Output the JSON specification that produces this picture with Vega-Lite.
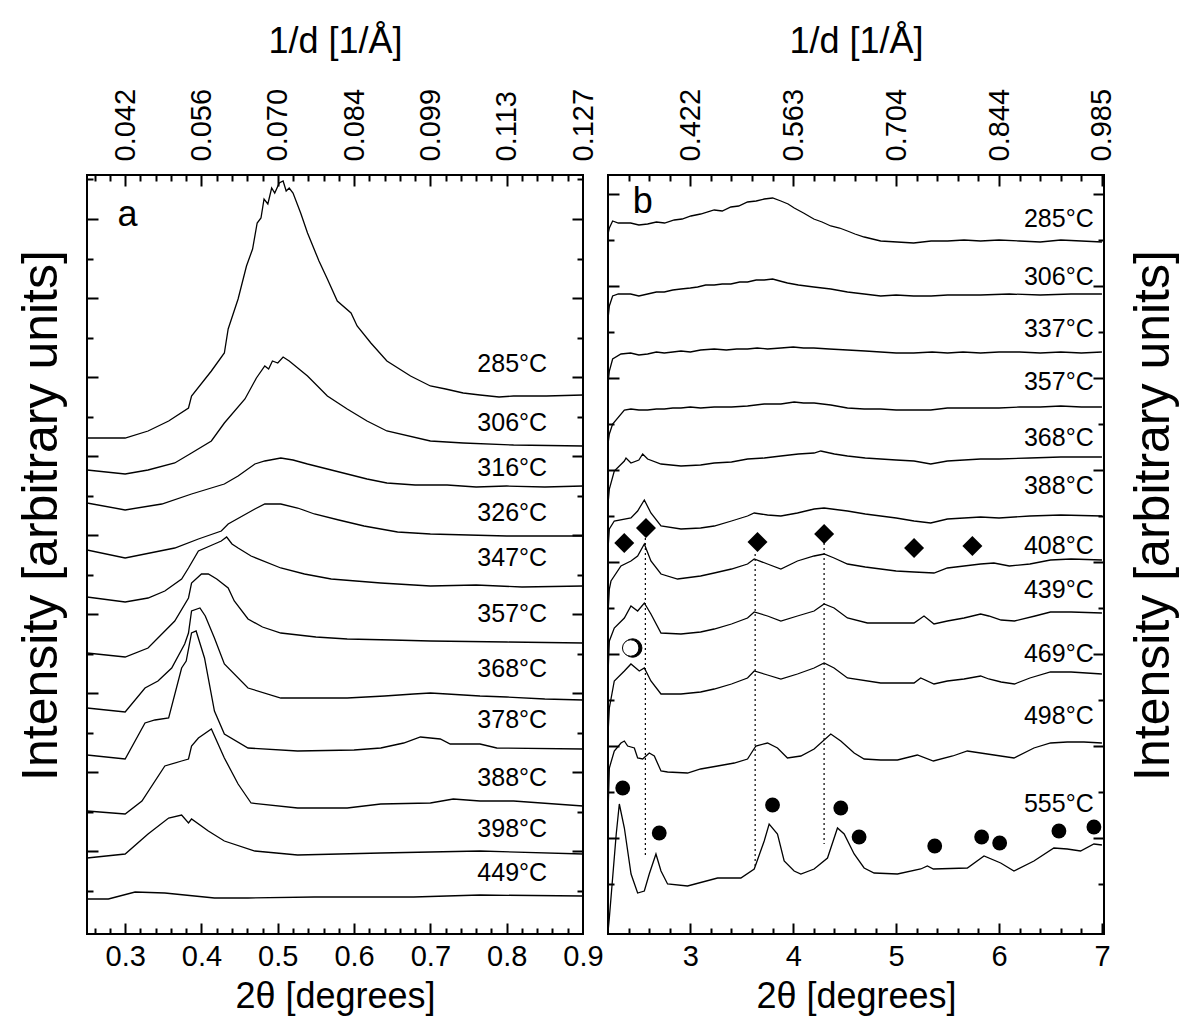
{
"$schema":"https://vega.github.io/schema/vega-lite/v6.json",
"background":"white",
"autosize":{"type":"pad"},
"padding":{"left":14,"top":22,"right":5,"bottom":5},
"spacing":25,
"bounds":"flush",
"config":{"font":"Liberation Sans","view":{"stroke":"black","strokeWidth":2},
"axis":{"grid":false,"domain":false,"labelColor":"black","titleColor":"black","tickColor":"black","titleFontWeight":"normal","labelOverlap":false,"labelFlush":false,"tickWidth":2,"labelFont":"Liberation Sans","titleFont":"Liberation Sans"}},
"datasets":{
"ca":[
{"t":"285","x":[0.25,0.3,0.33,0.357,0.383,0.387,0.413,0.43,0.435,0.448,0.459,0.467,0.473,0.478,0.482,0.487,0.492,0.496,0.502,0.507,0.511,0.515,0.52,0.53,0.539,0.554,0.565,0.578,0.596,0.604,0.622,0.643,0.674,0.7,0.72,0.743,0.765,0.79,0.809,0.852,0.9],"y":[496,496,503,513,526,538,563,581,605,635,668,685,711,716,735,730,746,741,751,753,743,746,741,721,701,673,655,633,621,608,591,573,558,548,545,541,539,537,538,538,539]},
{"t":"306","x":[0.25,0.3,0.33,0.365,0.387,0.413,0.43,0.457,0.472,0.483,0.488,0.493,0.5,0.507,0.515,0.539,0.565,0.591,0.617,0.643,0.7,0.743,0.809,0.9],"y":[464,460,464,471,481,493,511,535,556,568,565,573,571,577,573,558,538,525,513,503,493,491,489,488]},
{"t":"316","x":[0.25,0.3,0.348,0.387,0.43,0.448,0.47,0.483,0.504,0.52,0.539,0.565,0.591,0.617,0.643,0.68,0.722,0.76,0.8,0.85,0.9],"y":[431,424,430,440,450,458,470,473,476,474,470,465,460,455,451,449,449,447,448,447,448]},
{"t":"326","x":[0.25,0.3,0.365,0.396,0.426,0.435,0.47,0.483,0.504,0.526,0.548,0.58,0.613,0.657,0.7,0.75,0.8,0.85,0.9],"y":[384,376,386,395,403,410,425,430,430,426,420,414,408,402,400,399,398,398,398]},
{"t":"347","x":[0.25,0.3,0.33,0.352,0.374,0.383,0.396,0.417,0.426,0.433,0.44,0.448,0.465,0.504,0.535,0.57,0.635,0.7,0.76,0.82,0.9],"y":[337,332,336,343,355,366,383,390,393,397,390,386,378,366,360,355,351,348,349,347,348]},
{"t":"357","x":[0.25,0.3,0.33,0.365,0.383,0.387,0.4,0.409,0.42,0.435,0.443,0.461,0.48,0.504,0.55,0.591,0.65,0.7,0.8,0.9],"y":[281,277,286,313,336,351,360,360,355,346,333,315,307,301,297,295,294,293,292,291]},
{"t":"368","x":[0.25,0.3,0.326,0.343,0.361,0.378,0.383,0.387,0.398,0.405,0.417,0.43,0.461,0.504,0.55,0.591,0.64,0.678,0.7,0.722,0.765,0.8,0.85,0.9],"y":[226,222,246,253,266,290,301,323,326,318,296,270,246,236,236,236,238,240,241,240,238,237,235,234]},
{"t":"378","x":[0.25,0.3,0.326,0.339,0.357,0.374,0.38,0.387,0.393,0.404,0.417,0.43,0.461,0.526,0.6,0.635,0.665,0.687,0.713,0.726,0.765,0.787,0.9],"y":[179,175,211,214,216,266,273,301,303,276,223,200,186,183,184,186,191,197,195,190,190,186,185]},
{"t":"388","x":[0.25,0.3,0.322,0.352,0.374,0.383,0.387,0.396,0.413,0.43,0.448,0.465,0.526,0.591,0.635,0.7,0.73,0.765,0.809,0.9],"y":[123,120,133,168,173,175,188,196,205,176,150,131,126,126,130,131,135,133,133,128]},
{"t":"398","x":[0.25,0.3,0.33,0.357,0.374,0.383,0.387,0.409,0.43,0.47,0.526,0.635,0.765,0.9],"y":[76,80,100,116,119,111,115,103,93,83,79,81,83,80]},
{"t":"449","x":[0.25,0.278,0.313,0.352,0.417,0.461,0.548,0.678,0.765,0.9],"y":[35,35,42,41,36,36,37,37,39,38]}
],
"cb":[
{"t":"285","x":[2.2,2.213,2.245,2.3,2.42,2.5,2.585,2.67,2.75,2.844,2.92,3.006,3.1,3.232,3.31,3.394,3.47,3.556,3.64,3.718,3.8,3.88,3.95,4.01,4.1,4.2,4.28,4.365,4.45,4.527,4.6,4.69,4.77,4.85,5.01,5.17,5.34,5.5,5.66,5.82,6.0,6.2,6.4,6.6,6.8,7.0],"y":[700,706,713,711,711,709,710,712,711,714,715,718,720,724,723,727,728,732,733,735,736,733,730,726,721,715,712,708,706,703,700,697,695,693,692,691,693,693,694,693,694,693,692,694,693,692]},
{"t":"306","x":[2.2,2.213,2.245,2.3,2.42,2.5,2.585,2.67,2.747,2.83,2.909,3.0,3.071,3.15,3.232,3.31,3.394,3.48,3.556,3.64,3.718,3.8,3.87,3.944,4.05,4.2,4.365,4.527,4.689,4.85,5.0,5.17,5.34,5.5,5.66,5.82,6.1,6.4,6.7,7.0],"y":[615,628,638,640,640,638,640,642,642,644,645,646,647,649,649,650,650,652,652,654,654,655,653,651,649,647,645,642,640,638,639,638,638,639,639,639,640,639,640,640]},
{"t":"337","x":[2.2,2.213,2.245,2.326,2.42,2.5,2.585,2.67,2.747,2.83,2.909,3.0,3.1,3.232,3.35,3.45,3.556,3.65,3.75,3.88,4.0,4.1,4.2,4.35,4.527,4.7,4.85,5.0,5.17,5.35,5.5,5.65,5.82,6.0,6.2,6.4,6.6,6.8,7.0],"y":[550,563,575,580,581,579,580,582,581,582,583,582,584,585,584,585,585,586,585,586,587,586,586,585,584,583,582,581,581,582,581,582,581,582,582,581,582,581,582]},
{"t":"357","x":[2.2,2.213,2.245,2.359,2.423,2.5,2.585,2.67,2.747,2.83,2.909,3.0,3.1,3.232,3.4,3.556,3.718,3.88,4.009,4.1,4.203,4.365,4.527,4.689,4.85,5.0,5.174,5.336,5.498,5.66,5.821,6.0,6.2,6.4,6.6,6.8,7.0],"y":[490,500,510,524,525,524,524,525,525,526,526,527,526,527,527,528,530,530,532,531,531,529,526,525,525,524,524,524,526,526,526,526,527,527,528,527,527]},
{"t":"368","x":[2.2,2.213,2.261,2.359,2.375,2.423,2.5,2.537,2.585,2.715,2.909,3.1,3.232,3.4,3.556,3.718,3.88,4.05,4.203,4.268,4.4,4.527,4.7,4.85,5.0,5.174,5.336,5.498,5.66,5.821,6.0,6.3,6.6,7.0],"y":[430,445,463,473,476,471,474,480,475,470,468,469,471,472,475,476,478,480,481,483,480,478,476,475,474,473,470,473,474,475,475,476,477,477]},
{"t":"388","x":[2.2,2.213,2.261,2.423,2.488,2.553,2.617,2.715,2.909,3.1,3.232,3.4,3.556,3.621,3.75,3.88,4.041,4.203,4.3,4.45,4.527,4.7,4.85,5.0,5.174,5.336,5.498,5.66,5.821,6.0,6.3,6.6,7.0],"y":[385,405,413,416,423,434,421,408,405,406,408,413,418,421,419,418,421,425,426,424,423,420,418,416,413,411,415,416,417,416,418,419,418]},
{"t":"408","x":[2.2,2.213,2.229,2.326,2.423,2.488,2.553,2.617,2.715,2.876,3.1,3.232,3.4,3.556,3.621,3.75,3.88,4.041,4.203,4.3,4.397,4.527,4.7,4.85,5.0,5.174,5.368,5.498,5.66,5.821,5.95,6.1,6.3,6.5,6.7,7.0],"y":[320,345,353,368,373,378,390,373,360,355,358,361,365,370,375,370,365,373,378,380,376,370,367,365,363,362,361,366,368,370,371,368,370,374,375,374]},
{"t":"439","x":[2.2,2.213,2.261,2.359,2.423,2.488,2.553,2.617,2.715,2.909,3.1,3.232,3.4,3.556,3.621,3.75,3.88,4.041,4.203,4.3,4.397,4.527,4.721,4.85,5.0,5.174,5.271,5.368,5.498,5.66,5.821,5.9,6.02,6.15,6.35,6.5,6.7,7.0],"y":[260,293,306,316,328,323,331,320,301,300,302,305,310,316,322,318,313,318,323,330,326,316,311,311,311,311,318,310,313,316,320,318,314,313,318,322,322,321]},
{"t":"469","x":[2.2,2.213,2.261,2.359,2.423,2.504,2.553,2.617,2.715,2.909,3.1,3.232,3.4,3.556,3.621,3.75,3.88,4.041,4.203,4.3,4.397,4.527,4.85,5.0,5.174,5.239,5.368,5.498,5.66,5.821,5.9,6.02,6.15,6.3,6.5,6.7,7.0],"y":[200,226,253,263,270,263,266,253,240,240,242,245,250,256,263,259,255,260,266,271,266,256,251,251,251,256,250,253,255,258,255,252,250,256,262,262,260]},
{"t":"498","x":[2.2,2.213,2.261,2.326,2.359,2.391,2.456,2.488,2.537,2.601,2.65,2.715,2.779,2.973,3.1,3.265,3.427,3.556,3.637,3.75,3.847,3.944,4.074,4.203,4.365,4.462,4.592,4.689,4.85,5.013,5.206,5.362,5.55,5.692,6.016,6.145,6.339,6.501,6.663,6.825,7.0],"y":[120,166,183,191,193,188,186,176,175,181,178,163,162,161,165,168,171,175,188,191,186,176,178,185,200,193,181,175,174,174,179,173,178,183,178,176,186,191,192,192,191]},
{"t":"555","x":[2.2,2.213,2.28,2.31,2.359,2.424,2.488,2.553,2.601,2.666,2.715,2.779,2.973,3.265,3.491,3.621,3.718,3.766,3.847,3.912,4.009,4.074,4.203,4.333,4.43,4.495,4.592,4.689,4.786,5.013,5.239,5.304,5.362,5.692,5.854,6.016,6.145,6.339,6.533,6.663,6.792,6.922,7.0],"y":[2,16,100,130,106,60,41,43,60,80,63,50,48,56,56,65,93,110,100,73,63,60,65,76,106,100,80,66,61,60,65,68,65,66,78,71,63,73,86,85,83,90,89]}
],
"la":[{"t":"285°C","x":0.853,"y":570},{"t":"306°C","x":0.853,"y":511},{"t":"316°C","x":0.853,"y":466},{"t":"326°C","x":0.853,"y":421},{"t":"347°C","x":0.853,"y":376},{"t":"357°C","x":0.853,"y":320},{"t":"368°C","x":0.853,"y":265},{"t":"378°C","x":0.853,"y":214},{"t":"388°C","x":0.853,"y":156},{"t":"398°C","x":0.853,"y":105},{"t":"449°C","x":0.853,"y":61}],
"lb":[{"t":"285°C","x":6.92,"y":715},{"t":"306°C","x":6.92,"y":657},{"t":"337°C","x":6.92,"y":605},{"t":"357°C","x":6.92,"y":552},{"t":"368°C","x":6.92,"y":496},{"t":"388°C","x":6.92,"y":448},{"t":"408°C","x":6.92,"y":388},{"t":"439°C","x":6.92,"y":344},{"t":"469°C","x":6.92,"y":280},{"t":"498°C","x":6.92,"y":218},{"t":"555°C","x":6.92,"y":130}],
"lta":[{"t":"a","x":0.29,"y":708}],
"ltb":[{"t":"b","x":2.44,"y":721}],
"dr":[{"x":2.563,"y":396,"y2":76},{"x":3.63,"y":380,"y2":68},{"x":4.3,"y":396,"y2":90}],
"dd":[{"x":2.358,"y":391},{"x":2.569,"y":406},{"x":3.653,"y":392},{"x":4.3,"y":400},{"x":5.174,"y":386},{"x":5.741,"y":388}],
"dc":[{"x":2.343,"y":146},{"x":2.698,"y":101},{"x":3.799,"y":129},{"x":4.462,"y":126},{"x":4.64,"y":97},{"x":5.375,"y":88},{"x":5.831,"y":97},{"x":6.006,"y":91},{"x":6.582,"y":103},{"x":6.922,"y":107}],
"dh":[{"x":2.44,"y":286}]
},
"hconcat":[
{"width":496,"height":759,
"resolve":{"axis":{"x":"independent","y":"independent"}},
"layer":[
{"data":{"name":"ca"},"transform":[{"flatten":["x","y"]}],
"mark":{"type":"line","color":"black","strokeWidth":1.3,"clip":true},
"encoding":{
"x":{"field":"x","type":"quantitative","scale":{"domain":[0.25,0.9],"nice":false,"zero":false},
"axis":{"orient":"bottom","values":[0.3,0.4,0.5,0.6,0.7,0.8,0.9],"format":".1f","ticks":false,"tickSize":0,"labelFontSize":29,"labelPadding":22,"labelBaseline":"middle","labelAlign":"center","title":"2θ [degrees]","titleFontSize":36,"titleX":248,"titleY":62,"titleBaseline":"middle","titleAlign":"center"}},
"y":{"field":"y","type":"quantitative","scale":{"domain":[0,759],"nice":false,"zero":false},
"axis":{"orient":"left","values":[715.3,636.3,557.3,478,399,320,241,162,83],"labels":false,"tickSize":-11,"title":"Intensity [arbitrary units]","titleFontSize":50,"titleAngle":270,"titleX":-46,"titleY":340,"titleBaseline":"middle","titleAlign":"center"}},
"detail":{"field":"t"}}},
{"data":{"name":"la"},
"mark":{"type":"text","align":"right","baseline":"middle","fontSize":25,"color":"black"},
"encoding":{
"x":{"field":"x","type":"quantitative","scale":{"domain":[0.25,0.9],"nice":false,"zero":false},
"axis":{"orient":"top","values":[0.3,0.4,0.5,0.6,0.7,0.8,0.9],"labelExpr":"['0.042','0.056','0.070','0.084','0.099','0.113','0.127'][round(datum.value*10)-3]","ticks":false,"tickSize":0,"labelFontSize":29,"labelAngle":270,"labelAlign":"left","labelBaseline":"middle","labelPadding":14,"title":"1/d [1/Å]","titleFontSize":36,"titleX":248,"titleY":-134,"titleBaseline":"middle","titleAlign":"center"}},
"y":{"field":"y","type":"quantitative","scale":{"domain":[0,759],"nice":false,"zero":false},
"axis":{"orient":"right","values":[715.3,636.3,557.3,478,399,320,241,162,83],"labels":false,"tickSize":-11,"title":null}},
"text":{"field":"t"}}},
{"data":{"name":"lta"},
"mark":{"type":"text","align":"left","baseline":"alphabetic","fontSize":36,"color":"black"},
"encoding":{
"x":{"field":"x","type":"quantitative","axis":{"orient":"bottom","values":[0.3,0.4,0.5,0.6,0.7,0.8],"labels":false,"tickSize":-11,"title":null}},
"y":{"field":"y","type":"quantitative","axis":{"orient":"left","values":[754.8,675.3,596.3,517.3,438.5,359.5,280.5,201.5,122.5,43.5],"labels":false,"tickSize":-6,"title":null}},
"text":{"field":"t"}}},
{"data":{"name":"lta"},
"mark":{"type":"point","opacity":0},
"encoding":{
"x":{"field":"x","type":"quantitative","axis":{"orient":"bottom","values":[0.26,0.28,0.32,0.34,0.36,0.38,0.42,0.44,0.46,0.48,0.52,0.54,0.56,0.58,0.62,0.64,0.66,0.68,0.72,0.74,0.76,0.78,0.82,0.84,0.86,0.88],"labels":false,"tickSize":-6,"title":null}},
"y":{"field":"y","type":"quantitative","axis":{"orient":"right","values":[754.8,675.3,596.3,517.3,438.5,359.5,280.5,201.5,122.5,43.5],"labels":false,"tickSize":-6,"title":null}}}},
{"data":{"name":"lta"},
"mark":{"type":"point","opacity":0},
"encoding":{
"x":{"field":"x","type":"quantitative","axis":{"orient":"top","values":[0.3,0.4,0.5,0.6,0.7,0.8],"labels":false,"tickSize":-11,"title":null}},
"y":{"field":"y","type":"quantitative","axis":null}}},
{"data":{"name":"lta"},
"mark":{"type":"point","opacity":0},
"encoding":{
"x":{"field":"x","type":"quantitative","axis":{"orient":"top","values":[0.26,0.28,0.32,0.34,0.36,0.38,0.42,0.44,0.46,0.48,0.52,0.54,0.56,0.58,0.62,0.64,0.66,0.68,0.72,0.74,0.76,0.78,0.82,0.84,0.86,0.88],"labels":false,"tickSize":-6,"title":null}},
"y":{"field":"y","type":"quantitative","axis":null}}}
]},
{"width":496,"height":759,
"resolve":{"axis":{"x":"independent","y":"independent"}},
"layer":[
{"data":{"name":"cb"},"transform":[{"flatten":["x","y"]}],
"mark":{"type":"line","color":"black","strokeWidth":1.3,"clip":true},
"encoding":{
"x":{"field":"x","type":"quantitative","scale":{"domain":[2.2,7.02],"nice":false,"zero":false},
"axis":{"orient":"bottom","values":[3,4,5,6,7],"format":"d","ticks":false,"tickSize":0,"labelFontSize":29,"labelPadding":22,"labelBaseline":"middle","labelAlign":"center","title":"2θ [degrees]","titleFontSize":36,"titleX":248,"titleY":62,"titleBaseline":"middle","titleAlign":"center"}},
"y":{"field":"y","type":"quantitative","scale":{"domain":[0,759],"nice":false,"zero":false},
"axis":{"orient":"left","values":[739.7,647.7,555.7,463.7,371.7,279.7,187.7,95.7],"labels":false,"tickSize":-11,"title":null}},
"detail":{"field":"t"}}},
{"data":{"name":"lb"},
"mark":{"type":"text","align":"right","baseline":"middle","fontSize":25,"color":"black"},
"encoding":{
"x":{"field":"x","type":"quantitative","scale":{"domain":[2.2,7.02],"nice":false,"zero":false},
"axis":{"orient":"top","values":[3,4,5,6,7],"labelExpr":"['0.422','0.563','0.704','0.844','0.985'][round(datum.value)-3]","ticks":false,"tickSize":0,"labelFontSize":29,"labelAngle":270,"labelAlign":"left","labelBaseline":"middle","labelPadding":14,"title":"1/d [1/Å]","titleFontSize":36,"titleX":248,"titleY":-134,"titleBaseline":"middle","titleAlign":"center"}},
"y":{"field":"y","type":"quantitative","scale":{"domain":[0,759],"nice":false,"zero":false},
"axis":{"orient":"right","values":[739.7,647.7,555.7,463.7,371.7,279.7,187.7,95.7],"labels":false,"tickSize":-11,"title":"Intensity [arbitrary units]","titleFontSize":50,"titleAngle":270,"titleX":49,"titleY":340,"titleBaseline":"middle","titleAlign":"center"}},
"text":{"field":"t"}}},
{"data":{"name":"ltb"},
"mark":{"type":"text","align":"left","baseline":"alphabetic","fontSize":36,"color":"black"},
"encoding":{
"x":{"field":"x","type":"quantitative","axis":{"orient":"bottom","values":[3,4,5,6,7],"labels":false,"tickSize":-11,"title":null}},
"y":{"field":"y","type":"quantitative","axis":{"orient":"left","values":[693.7,601.7,509.7,417.7,325.7,233.7,141.7,49.7],"labels":false,"tickSize":-6,"title":null}},
"text":{"field":"t"}}},
{"data":{"name":"dr"},
"mark":{"type":"rule","color":"black","strokeWidth":1.2,"strokeDash":[2,3]},
"encoding":{
"x":{"field":"x","type":"quantitative","axis":{"orient":"bottom","values":[2.4,2.6,2.8,3.2,3.4,3.6,3.8,4.2,4.4,4.6,4.8,5.2,5.4,5.6,5.8,6.2,6.4,6.6,6.8],"labels":false,"tickSize":-6,"title":null}},
"y":{"field":"y","type":"quantitative","axis":{"orient":"right","values":[693.7,601.7,509.7,417.7,325.7,233.7,141.7,49.7],"labels":false,"tickSize":-6,"title":null}},
"y2":{"field":"y2"}}},
{"data":{"name":"dd"},
"mark":{"type":"point","shape":"diamond","filled":true,"color":"black","size":400,"opacity":1},
"encoding":{
"x":{"field":"x","type":"quantitative","axis":{"orient":"top","values":[3,4,5,6,7],"labels":false,"tickSize":-11,"title":null}},
"y":{"field":"y","type":"quantitative","axis":null}}},
{"data":{"name":"dc"},
"mark":{"type":"point","shape":"circle","filled":true,"color":"black","size":220,"opacity":1},
"encoding":{
"x":{"field":"x","type":"quantitative","axis":{"orient":"top","values":[2.4,2.6,2.8,3.2,3.4,3.6,3.8,4.2,4.4,4.6,4.8,5.2,5.4,5.6,5.8,6.2,6.4,6.6,6.8],"labels":false,"tickSize":-6,"title":null}},
"y":{"field":"y","type":"quantitative","axis":null}}},
{"data":{"name":"dh"},
"mark":{"type":"point","shape":"circle","filled":true,"fill":"black","stroke":"black","strokeWidth":1,"size":340,"opacity":1},
"encoding":{
"x":{"field":"x","type":"quantitative","axis":null},
"y":{"field":"y","type":"quantitative","axis":null}}},
{"data":{"name":"dh"},
"mark":{"type":"point","shape":"circle","filled":true,"fill":"white","stroke":"black","strokeWidth":1,"size":270,"opacity":1,"xOffset":-2},
"encoding":{
"x":{"field":"x","type":"quantitative","axis":null},
"y":{"field":"y","type":"quantitative","axis":null}}}
]}
]
}
